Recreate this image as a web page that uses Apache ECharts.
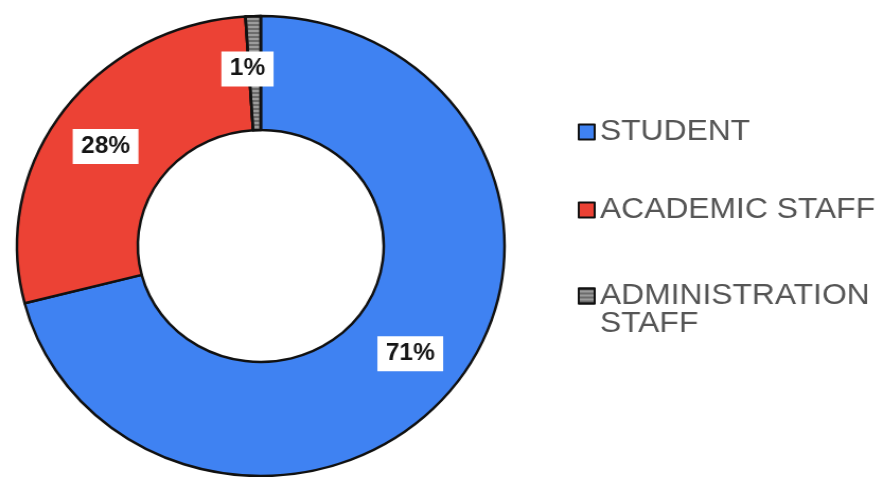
<!DOCTYPE html>
<html>
<head>
<meta charset="utf-8">
<script src="https://cdn.jsdelivr.net/npm/echarts@6/dist/echarts.min.js"></script>
<style>
  html, body { margin: 0; padding: 0; background: #ffffff; overflow: hidden; }
  #chart { width: 832px; height: 477px; transform: scaleX(1.06); transform-origin: 0 0; }
</style>
</head>
<body>
<div id="chart"></div>
<script>
const categories = ['STUDENT', 'ACADEMIC STAFF', 'ADMINISTRATION STAFF'];
const values = [71, 28, 1];
const colors = ['#3f82f2', '#ec4235', '#9c9c9c'];

const chart = echarts.init(document.getElementById('chart'), null, { renderer: 'canvas' });

const labelOffsets = [[2, 0], [-4, 4], [-7, -1]];

const data = categories.map((name, i) => {
  const item = {
    name: name,
    value: values[i],
    itemStyle: { color: colors[i] },
    label: { offset: labelOffsets[i] }
  };
  if (i === 2) {
    item.itemStyle.decal = {
      symbol: 'rect',
      dashArrayX: [1, 0],
      dashArrayY: [2, 2],
      rotation: 0,
      color: 'rgba(70,70,70,0.55)'
    };
  }
  return item;
});

const legendText = {
  fontFamily: 'Liberation Sans, Arial, sans-serif',
  fontSize: 30,
  lineHeight: 28,
  color: '#555555'
};

const legendBase = {
  orient: 'vertical',
  left: 545,
  padding: 0,
  icon: 'rect',
  itemWidth: 15,
  itemHeight: 15,
  selectedMode: true,
  textStyle: legendText
};

chart.setOption({
  backgroundColor: '#ffffff',
  animation: false,
  legend: [
    Object.assign({}, legendBase, { top: 117, data: [categories[0]] }),
    Object.assign({}, legendBase, { top: 195, data: [categories[1]] }),
    Object.assign({}, legendBase, {
      top: 253,
      data: [categories[2]],
      formatter: function (name) { return '\n' + name.replace(' ', '\n'); }
    })
  ],
  series: [{
    type: 'pie',
    center: [246, 246],
    radius: [116, 230],
    startAngle: 90,
    clockwise: true,
    avoidLabelOverlap: false,
    itemStyle: { borderColor: '#111111', borderWidth: 2.5 },
    label: {
      show: true,
      position: 'inside',
      formatter: '{c}%',
      fontFamily: 'Liberation Sans, Arial, sans-serif',
      fontWeight: 'bold',
      fontSize: 23,
      lineHeight: 24,
      color: '#151515',
      backgroundColor: '#ffffff',
      padding: [6, 8, 5, 8]
    },
    labelLine: { show: false },
    emphasis: { scale: false },
    data: data
  }]
});
</script>
</body>
</html>
